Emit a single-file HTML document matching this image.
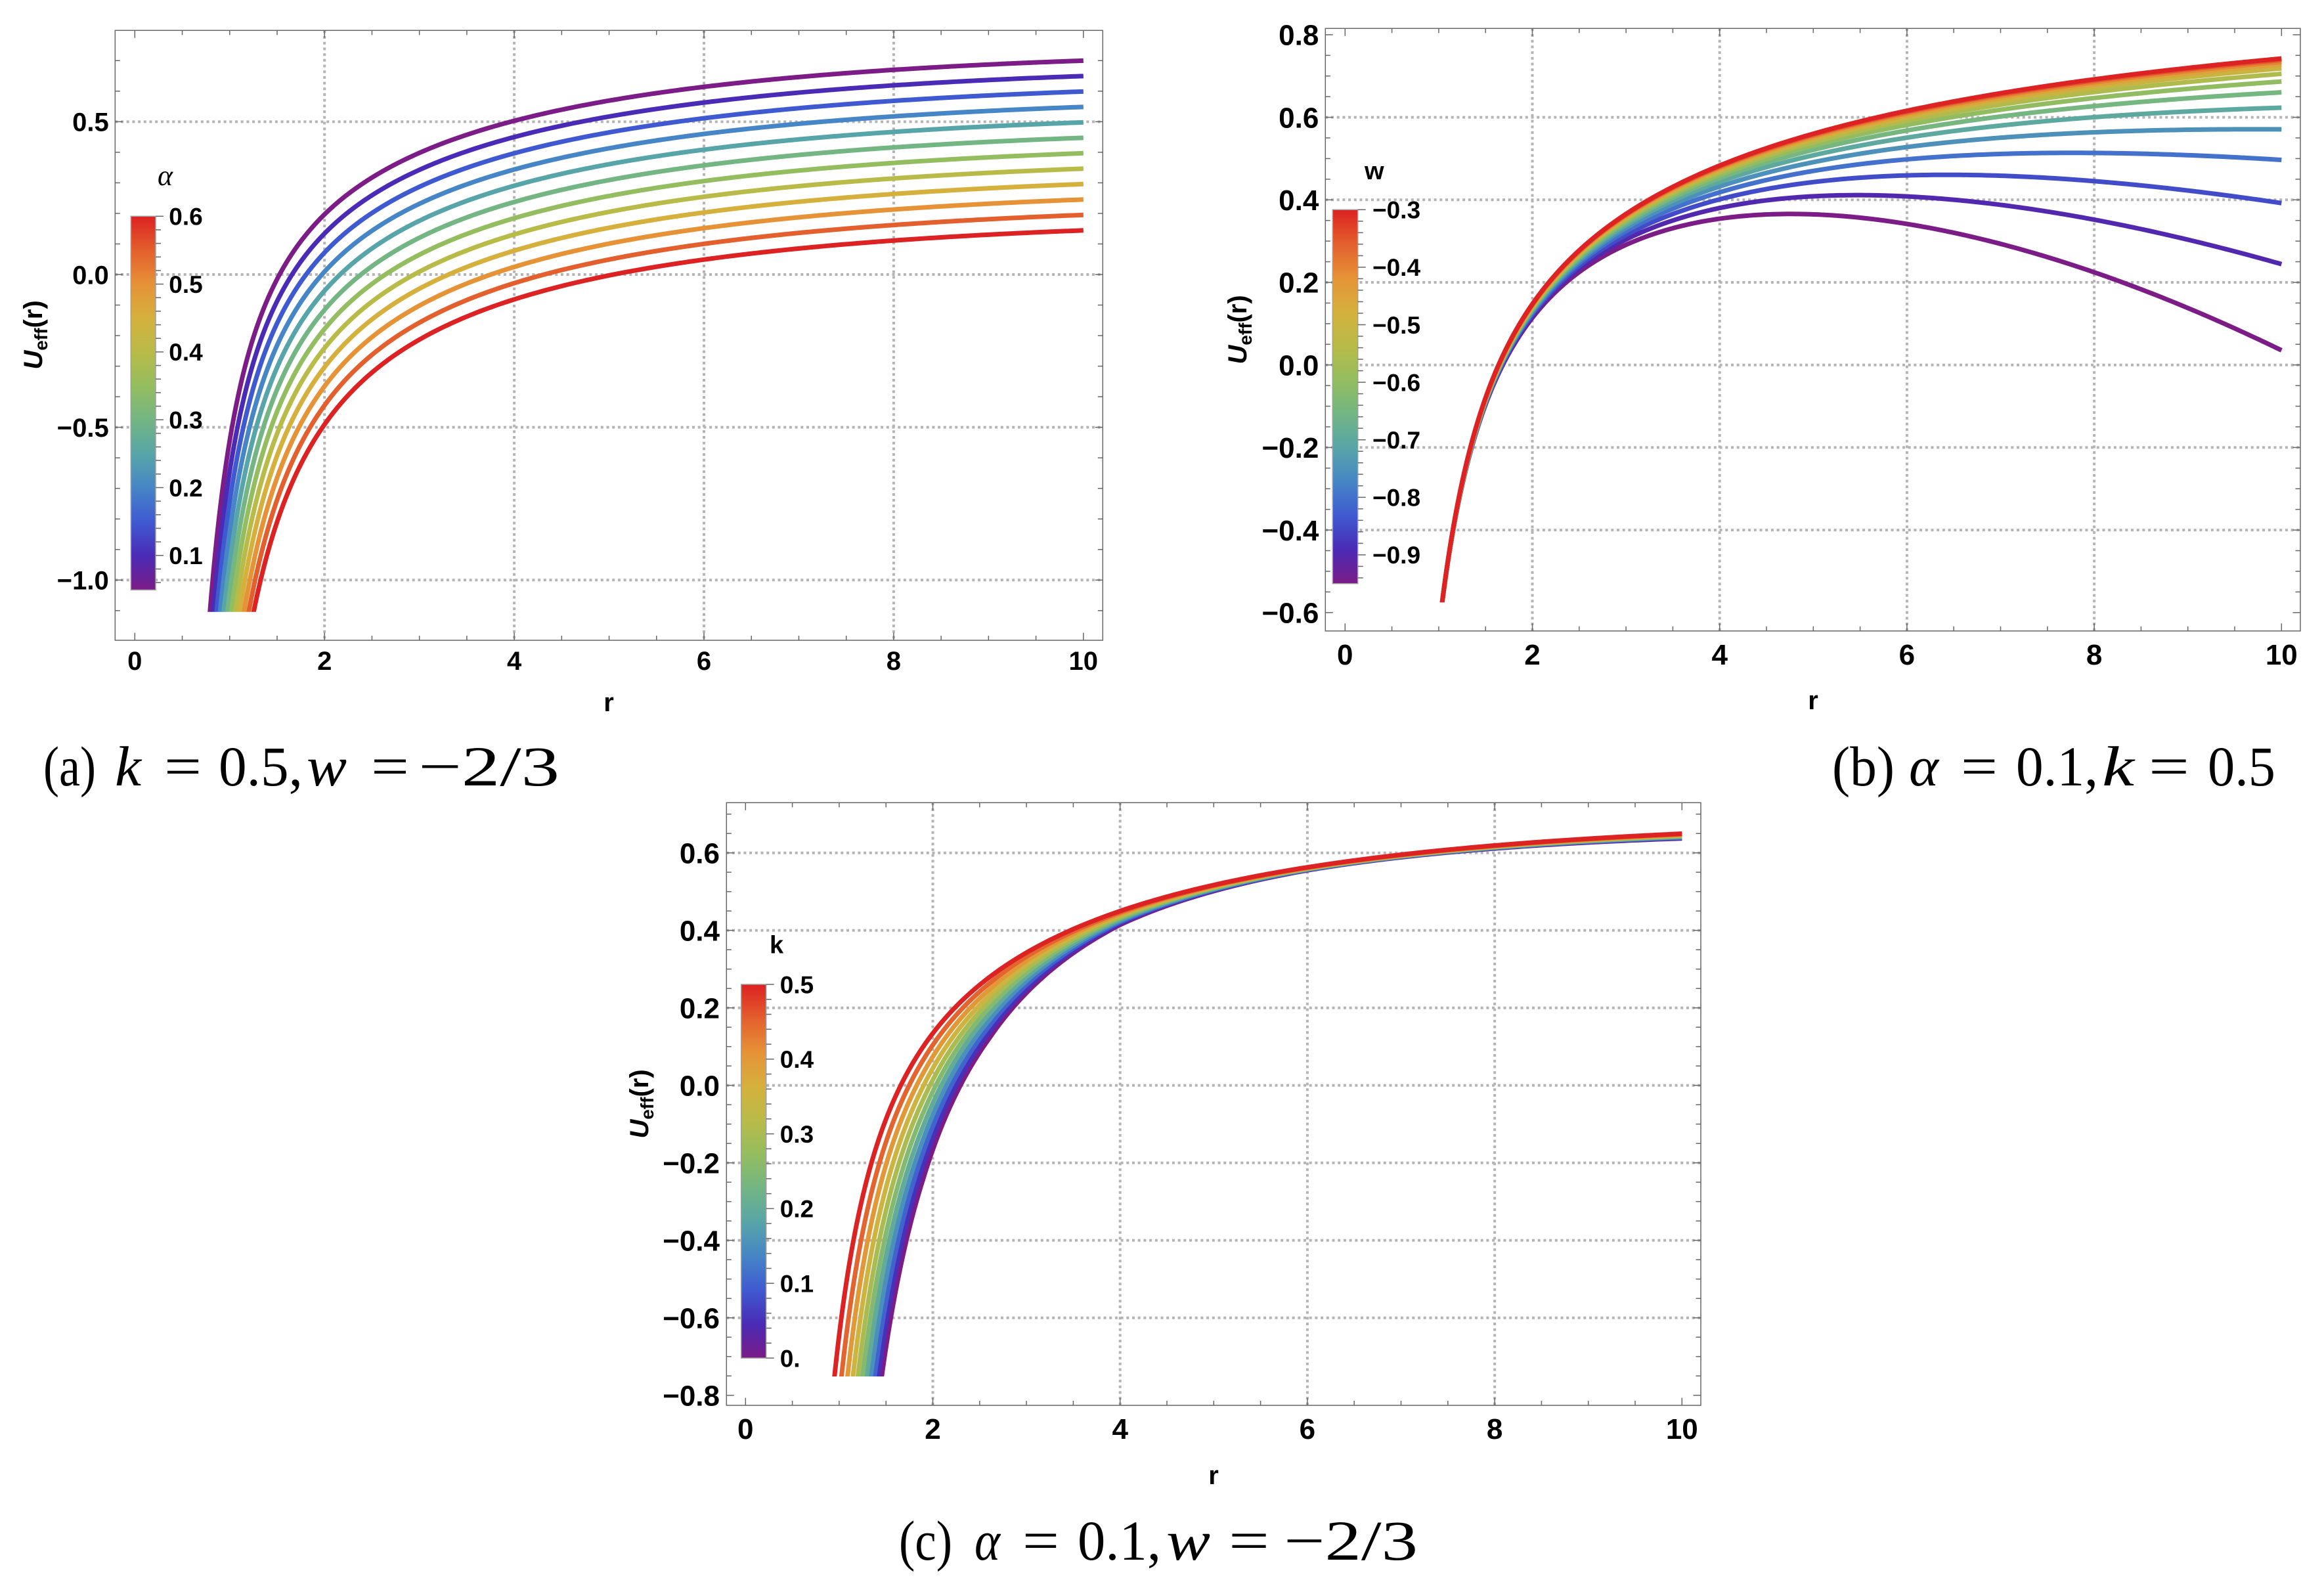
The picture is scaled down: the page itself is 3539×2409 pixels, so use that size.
<!DOCTYPE html>
<html><head><meta charset="utf-8"><style>
html,body{margin:0;padding:0;background:#fff;width:3539px;height:2409px;overflow:hidden;}
svg{display:block;overflow:hidden;}
.tk{font-family:"Liberation Sans",Arial,sans-serif;font-weight:bold;fill:#000;}
.cap{font-family:"Liberation Serif","Times New Roman",serif;font-size:86px;fill:#000;}
</style></head><body>
<svg id="chart" xmlns="http://www.w3.org/2000/svg" width="3539" height="2409" viewBox="0 0 3539 2409">
<defs>
<linearGradient id="rbw" x1="0" y1="1" x2="0" y2="0">
<stop offset="0" stop-color="#7b1c87"/><stop offset="0.0909" stop-color="#4a2bb5"/><stop offset="0.1818" stop-color="#3f5ad1"/><stop offset="0.2727" stop-color="#4685c6"/><stop offset="0.3636" stop-color="#57a5a8"/><stop offset="0.4545" stop-color="#73b583"/><stop offset="0.5455" stop-color="#94bd5f"/><stop offset="0.6364" stop-color="#b9bb48"/><stop offset="0.7273" stop-color="#d5b03d"/><stop offset="0.8182" stop-color="#e69237"/><stop offset="0.9091" stop-color="#e35f2d"/><stop offset="1" stop-color="#dc2222"/>
</linearGradient>
</defs>
<rect x="0" y="0" width="3539" height="2409" fill="#fff"/>
<g id="plots"></g>

<!-- colorbars -->
<rect x="199.3" y="329.3" width="37.7" height="569" fill="url(#rbw)" stroke="#a0a0a0" stroke-width="1.5"/>
<rect x="2029.3" y="319.3" width="38.4" height="569.4" fill="url(#rbw)" stroke="#a0a0a0" stroke-width="1.5"/>
<rect x="1128.7" y="1499" width="38" height="569" fill="url(#rbw)" stroke="#a0a0a0" stroke-width="1.5"/>

<!-- Panel (a) text -->
<g class="tk" font-size="40" text-anchor="end">
<text x="165.7" y="199.6">0.5</text>
<text x="165.7" y="432.3">0.0</text>
<text x="165.7" y="665">−0.5</text>
<text x="165.7" y="897.6">−1.0</text>
</g>
<g class="tk" font-size="40" text-anchor="middle">
<text x="205.3" y="1020">0</text>
<text x="494.2" y="1020">2</text>
<text x="783.1" y="1020">4</text>
<text x="1072" y="1020">6</text>
<text x="1360.9" y="1020">8</text>
<text x="1649.8" y="1020">10</text>
<text x="927" y="1083">r</text>
</g>
<g class="tk" font-size="37">
<text x="257.3" y="342.6">0.6</text>
<text x="257.3" y="445.9">0.5</text>
<text x="257.3" y="549.2">0.4</text>
<text x="257.3" y="652.5">0.3</text>
<text x="257.3" y="755.8">0.2</text>
<text x="257.3" y="859.1">0.1</text>
</g>
<text x="240" y="282" font-family="Liberation Serif, serif" font-style="italic" font-size="44" fill="#000">α</text>
<text class="tk" font-size="40" text-anchor="middle" transform="translate(64,510) rotate(-90)"><tspan font-style="italic">U</tspan><tspan font-size="28" dy="8">eff</tspan><tspan dy="-8">(r)</tspan></text>

<!-- Panel (b) text -->
<g class="tk" font-size="44" text-anchor="end">
<text x="2008.3" y="68.6">0.8</text>
<text x="2008.3" y="194.3">0.6</text>
<text x="2008.3" y="320">0.4</text>
<text x="2008.3" y="445.7">0.2</text>
<text x="2008.3" y="571.4">0.0</text>
<text x="2008.3" y="697.1">−0.2</text>
<text x="2008.3" y="822.8">−0.4</text>
<text x="2008.3" y="948.5">−0.6</text>
</g>
<g class="tk" font-size="44" text-anchor="middle">
<text x="2048.3" y="1012">0</text>
<text x="2333.5" y="1012">2</text>
<text x="2618.7" y="1012">4</text>
<text x="2903.9" y="1012">6</text>
<text x="3189.1" y="1012">8</text>
<text x="3474.3" y="1012">10</text>
<text x="2761" y="1080" font-size="40">r</text>
</g>
<g class="tk" font-size="37">
<text x="2090" y="332.6">−0.3</text>
<text x="2090" y="420.2">−0.4</text>
<text x="2090" y="507.8">−0.5</text>
<text x="2090" y="595.4">−0.6</text>
<text x="2090" y="683">−0.7</text>
<text x="2090" y="770.6">−0.8</text>
<text x="2090" y="858.2">−0.9</text>
</g>
<text class="tk" x="2078" y="273" font-size="38">w</text>
<text class="tk" font-size="40" text-anchor="middle" transform="translate(1898,502) rotate(-90)"><tspan font-style="italic">U</tspan><tspan font-size="28" dy="8">eff</tspan><tspan dy="-8">(r)</tspan></text>

<!-- Panel (c) text -->
<g class="tk" font-size="44" text-anchor="end">
<text x="1096" y="1314.4">0.6</text>
<text x="1096" y="1432.4">0.4</text>
<text x="1096" y="1550.4">0.2</text>
<text x="1096" y="1668.4">0.0</text>
<text x="1096" y="1786.4">−0.2</text>
<text x="1096" y="1904.4">−0.4</text>
<text x="1096" y="2022.4">−0.6</text>
<text x="1096" y="2140.4">−0.8</text>
</g>
<g class="tk" font-size="44" text-anchor="middle">
<text x="1135.3" y="2191">0</text>
<text x="1420.5" y="2191">2</text>
<text x="1705.7" y="2191">4</text>
<text x="1990.9" y="2191">6</text>
<text x="2276.1" y="2191">8</text>
<text x="2561.3" y="2191">10</text>
<text x="1848" y="2260" font-size="40">r</text>
</g>
<g class="tk" font-size="37">
<text x="1187.7" y="1512.3">0.5</text>
<text x="1187.7" y="1626.1">0.4</text>
<text x="1187.7" y="1739.9">0.3</text>
<text x="1187.7" y="1853.7">0.2</text>
<text x="1187.7" y="1967.5">0.1</text>
<text x="1187.7" y="2081.3">0.</text>
</g>
<text class="tk" x="1172" y="1451.7" font-size="38">k</text>
<text class="tk" font-size="40" text-anchor="middle" transform="translate(987,1681) rotate(-90)"><tspan font-style="italic">U</tspan><tspan font-size="28" dy="8">eff</tspan><tspan dy="-8">(r)</tspan></text>

<!-- Captions -->
<g class="cap">
<text x="66" y="1196" textLength="80" lengthAdjust="spacingAndGlyphs">(a)</text>
<text x="175" y="1196" font-style="italic" textLength="40" lengthAdjust="spacingAndGlyphs">k</text>
<text x="250" y="1196" textLength="57" lengthAdjust="spacingAndGlyphs">=</text>
<text x="333" y="1196" textLength="128" lengthAdjust="spacingAndGlyphs">0.5,</text>
<text x="467" y="1196" font-style="italic" textLength="61" lengthAdjust="spacingAndGlyphs">w</text>
<text x="565" y="1196" textLength="58" lengthAdjust="spacingAndGlyphs">=</text>
<text x="637" y="1196" textLength="215" lengthAdjust="spacingAndGlyphs">−2/3</text>

<text x="2790" y="1196" textLength="95" lengthAdjust="spacingAndGlyphs">(b)</text>
<text x="2907" y="1196" font-style="italic" textLength="45" lengthAdjust="spacingAndGlyphs">α</text>
<text x="2986" y="1196" textLength="56" lengthAdjust="spacingAndGlyphs">=</text>
<text x="3070" y="1196" textLength="125" lengthAdjust="spacingAndGlyphs">0.1,</text>
<text x="3201" y="1196" font-style="italic" textLength="49" lengthAdjust="spacingAndGlyphs">k</text>
<text x="3272" y="1196" textLength="62" lengthAdjust="spacingAndGlyphs">=</text>
<text x="3362" y="1196" textLength="103" lengthAdjust="spacingAndGlyphs">0.5</text>

<text x="1369" y="2375" textLength="81" lengthAdjust="spacingAndGlyphs">(c)</text>
<text x="1484" y="2375" font-style="italic" textLength="39" lengthAdjust="spacingAndGlyphs">α</text>
<text x="1557" y="2375" textLength="56" lengthAdjust="spacingAndGlyphs">=</text>
<text x="1641" y="2375" textLength="127" lengthAdjust="spacingAndGlyphs">0.1,</text>
<text x="1776" y="2375" font-style="italic" textLength="67" lengthAdjust="spacingAndGlyphs">w</text>
<text x="1871" y="2375" textLength="62" lengthAdjust="spacingAndGlyphs">=</text>
<text x="1955" y="2375" textLength="204" lengthAdjust="spacingAndGlyphs">−2/3</text>
</g>
</svg>
<script>
(function(){
var NS='http://www.w3.org/2000/svg';
var svg=document.getElementById('chart');
var layer=document.getElementById('plots');
var defs=svg.querySelector('defs');
function E(t,a,p){var e=document.createElementNS(NS,t);for(var k in a)e.setAttribute(k,a[k]);(p||layer).appendChild(e);return e;}
var C=['#7b1c87','#4a2bb5','#3f5ad1','#4685c6','#57a5a8','#73b583','#94bd5f','#b9bb48','#d5b03d','#e69237','#e35f2d','#dc2222'];
var CR=C.map(function(h){return [parseInt(h.substr(1,2),16),parseInt(h.substr(3,2),16),parseInt(h.substr(5,2),16)];});
function rb(t){t=Math.max(0,Math.min(1,t));var s=t*11;var i=Math.min(10,Math.floor(s));var f=s-i;var a=CR[i],b=CR[i+1];
 return 'rgb('+[0,1,2].map(function(j){return Math.round(a[j]+(b[j]-a[j])*f);}).join(',')+')';}
function H(r){return -1.344-0.6706*Math.log(r)+0.1318*r;}
var H0p=[[0.3,-2.03],[1.9,-2.03],[2.6,-2.0],[4,-1.88],[6,-1.80],[10,-1.69],[11,-1.66]];
function H0(r){for(var i=0;i<H0p.length-1;i++){var a=H0p[i],b=H0p[i+1];if(r<=b[0]){var f=(r-a[0])/(b[0]-a[0]);return a[1]+f*(b[1]-a[1]);}}return -1.66;}
var P=[
 {id:'a',L:175.3,R:1679.3,T:46.3,B:975,x0:205.3,sx:144.45,y0:418,sy:465.3,ylo:-1.1,yhi:0.7,ystep:0.1,ymaj:0.5,grid:[-1,-0.5,0,0.5],clip:931.7,lw:7},
 {id:'b',L:2018.3,R:3503,T:43.3,B:960.8,x0:2048.3,sx:142.6,y0:555.7,sy:628.5,ylo:-0.6,yhi:0.8,ystep:0.05,ymaj:0.2,grid:[-0.4,-0.2,0,0.2,0.4,0.6],clip:917.1,lw:7},
 {id:'c',L:1106.3,R:2590,T:1222.3,B:2140,x0:1135.3,sx:142.6,y0:1652.7,sy:590,ylo:-0.8,yhi:0.7,ystep:0.05,ymaj:0.2,grid:[-0.6,-0.4,-0.2,0,0.2,0.4,0.6],clip:2096,lw:7}
];
P.forEach(function(p){
 var g=E('g',{});
 var X=function(r){return p.x0+r*p.sx;}, Y=function(u){return p.y0-u*p.sy;};
 var gs={stroke:'#b4b4b4','stroke-width':4,'stroke-dasharray':'4 4.7',fill:'none'};
 [2,4,6,8].forEach(function(v){var a={x1:X(v),y1:p.T,x2:X(v),y2:p.B};for(var k in gs)a[k]=gs[k];E('line',a,g);});
 p.grid.forEach(function(v){var a={x1:p.L,y1:Y(v),x2:p.R,y2:Y(v)};for(var k in gs)a[k]=gs[k];E('line',a,g);});
 var cp=E('clipPath',{id:'clip'+p.id},defs);
 E('rect',{x:p.L,y:p.T,width:p.R-p.L,height:p.clip-p.T},cp);
 var cg=E('g',{'clip-path':'url(#clip'+p.id+')'});
 var ymaxDraw=p.clip+60;
 function curve(fn,r0,col){
  var pts=[],r=r0;
  while(true){
   var u=fn(r);var yy=Y(u);
   pts.push([X(r),yy]);
   if(r>=10)break;
   r+= (r<3?0.005:0.04); if(r>10)r=10;
  }
  // start from the last point that is below the clip line
  var s=0;for(var i=0;i<pts.length;i++){if(pts[i][1]>ymaxDraw)s=i;}
  var d='';
  for(var i=s;i<pts.length;i++){var yy=Math.min(pts[i][1],ymaxDraw+40);d+=(i===s?'M':'L')+pts[i][0].toFixed(2)+','+yy.toFixed(2);}
  E('path',{d:d,fill:'none',stroke:col,'stroke-width':p.lw,'stroke-linejoin':'round','stroke-linecap':'butt'},cg);
 }
 if(p.id==='a'){
  for(var i=0;i<12;i++){(function(al){
   curve(function(r){return (1-al+H(r)/r-0.01*r)*(1+1/(r*r));},0.6,rb((al-0.05)/0.55));})(0.05+0.05*i);}
 } else if(p.id==='b'){
  for(var i=0;i<14;i++){(function(w){
   curve(function(r){return (0.9+H(r)/r-0.01*Math.pow(r,-(3*w+1)))*(1+1/(r*r));},1.0,rb((w+0.95)/0.65));})(-0.95+0.05*i);}
 } else {
  for(var i=0;i<11;i++){(function(kk){
   var t=kk/0.5;
   curve(function(r){var hk=H0(r)+t*(H(r)-H0(r));return (0.9+hk/r-0.01*r)*(1+1/(r*r));},0.8,rb(t));})(0.05*i);}
 }
 E('rect',{x:p.L,y:p.T,width:p.R-p.L,height:p.B-p.T,fill:'none',stroke:'#666','stroke-width':1.5});
 for(var j=0;j<=20;j++){var r=j*0.5;var len=(j%4===0)?11.5:7;var x=X(r);
  E('line',{x1:x,y1:p.B,x2:x,y2:p.B-len,stroke:'#666','stroke-width':1.5});
  E('line',{x1:x,y1:p.T,x2:x,y2:p.T+len,stroke:'#666','stroke-width':1.5});}
 var n=Math.round((p.yhi-p.ylo)/p.ystep);
 for(var j=0;j<=n;j++){var v=p.ylo+j*p.ystep;var q=v/p.ymaj;var maj=Math.abs(q-Math.round(q))<1e-6;var len=maj?11.5:7.5;var y=Y(v);
  E('line',{x1:p.L,y1:y,x2:p.L+len,y2:y,stroke:'#666','stroke-width':1.5});
  E('line',{x1:p.R,y1:y,x2:p.R-len,y2:y,stroke:'#666','stroke-width':1.5});}
});
var top=document.createElementNS(NS,'g');svg.appendChild(top);
function cbt(x,ytop,pxPerUnit,vmax,vmin){
 var n=Math.round((vmax-vmin)/0.02);
 for(var j=0;j<=n;j++){var v=vmax-j*0.02;var q=v/0.1;var maj=Math.abs(q-Math.round(q))<1e-6;
  var y=ytop+(vmax-v)*pxPerUnit;E('line',{x1:x,y1:y,x2:x+(maj?12:8),y2:y,stroke:'#666','stroke-width':1.5},top);}
}
cbt(237,329.3,1033,0.6,0.06);
cbt(2067.7,319.3,876,-0.3,-0.94);
cbt(1166.7,1499,1138,0.5,0.0);
})();
</script>
</body></html>
